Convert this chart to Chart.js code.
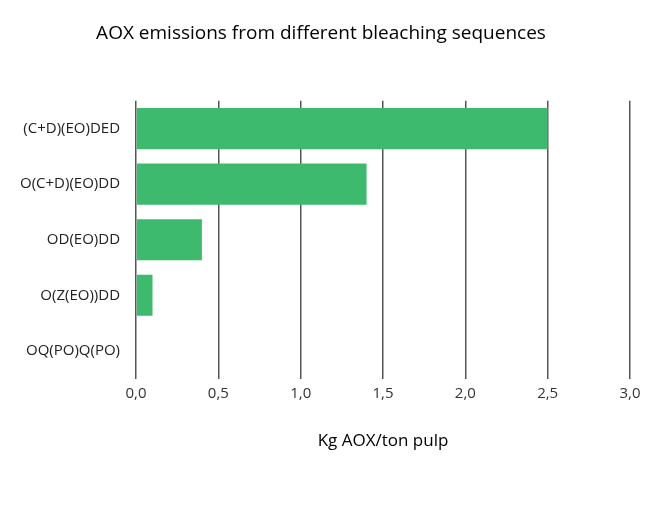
<!DOCTYPE html>
<html>
<head>
<meta charset="utf-8">
<script src="https://cdn.jsdelivr.net/npm/chart.js@4"></script>
<style>
body { margin: 0; background: #fff; }
#wrap { width: 650px; height: 505px; }
</style>
</head>
<body>
<div id="wrap"><canvas id="chart"></canvas></div>
<script>
const sequences = ['(C+D)(EO)DED', 'O(C+D)(EO)DD', 'OD(EO)DD', 'O(Z(EO))DD', 'OQ(PO)Q(PO)'];
const aoxValues = [2.5, 1.4, 0.4, 0.1, 0];

const ctx = document.getElementById('chart').getContext('2d');
new Chart(ctx, {
    type: 'bar',
    data: {
        labels: sequences,
        datasets: [{
            label: 'AOX',
            data: aoxValues,
            backgroundColor: '#3dba6d',
            barPercentage: 0.74,
            categoryPercentage: 1
        }]
    },
    options: {
        indexAxis: 'y',
        responsive: true,
        maintainAspectRatio: false,
        animation: false,
        layout: { padding: { left: 12, right: 20, top: 12, bottom: 50 } },
        plugins: {
            legend: { display: false },
            tooltip: { enabled: false },
            title: {
                display: true,
                text: 'AOX emissions from different bleaching sequences',
                color: '#000',
                font: { family: 'Open Sans', size: 19, weight: 'normal' },
                padding: { top: 10, bottom: 56 }
            }
        },
        scales: {
            x: {
                min: 0,
                max: 3,
                ticks: {
                    stepSize: 0.5,
                    color: '#333',
                    font: { family: 'Open Sans', size: 15 },
                    padding: 6,
                    callback: v => v.toFixed(1).replace('.', ',')
                },
                grid: { color: '#555', lineWidth: 1.5, drawTicks: false },
                border: { display: false },
                title: {
                    display: true,
                    text: 'Kg AOX/ton pulp',
                    color: '#000',
                    font: { family: 'Open Sans', size: 17 },
                    padding: { top: 22 }
                }
            },
            y: {
                ticks: {
                    color: '#222',
                    font: { family: 'Open Sans', size: 15 },
                    padding: 8
                },
                grid: { display: false },
                border: { display: false }
            }
        }
    }
});
</script>
</body>
</html>
